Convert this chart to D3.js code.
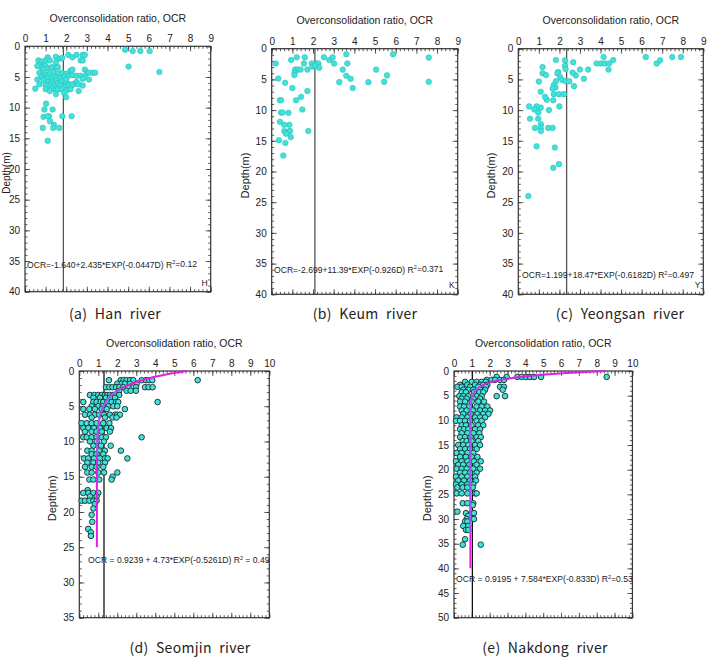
<!DOCTYPE html>
<html lang="en">
<head>
<meta charset="utf-8">
<title>OCR vs depth, five rivers</title>
<script src="https://d3js.org/d3.v7.min.js"></script>
<style>
  body { margin: 0; background: #fff; }
  text { font-family: "Liberation Sans", Arial, sans-serif; fill: #222; }
  .cap { font-family: "Noto Sans CJK KR", "Noto Sans", sans-serif; word-spacing: 4px; letter-spacing: 0.3px; }
</style>
</head>
<body>
<svg width="708" height="664"></svg>
<script>
// [OCR, depth(m)] pairs
const hanPoints = [
  [4.85,0.55],[5.22,0.76],[5.59,0.76],[6.04,0.76],[5.02,3.3],[6.51,4.2],
  [1.1,1.8],[1.5,1.7],[1.7,2.0],[1.8,1.9],[2.1,1.4],[2.3,1.8],[2.5,1.4],[2.8,1.4],[2.9,1.4],[2.7,2.3],[2.8,2.3],
  [0.65,2.3],[0.8,2.5],[1.0,2.3],[1.5,2.6],[1.2,2.3],
  [0.7,3.0],[0.8,3.4],[1.0,3.2],[1.1,3.6],[1.3,3.4],[1.5,3.4],[1.6,3.4],[0.6,3.2],[0.9,3.7],
  [2.2,4.0],[2.3,3.8],[2.9,3.8],[3.0,4.3],[3.1,4.3],[3.3,4.3],[3.4,4.3],
  [0.7,4.3],[0.9,4.4],[1.0,4.7],[1.2,4.4],[1.4,4.3],[1.6,4.4],[1.8,4.3],[2.0,4.5],[2.1,4.8],[2.3,4.7],
  [2.5,4.8],[2.7,4.8],[2.9,5.0],[3.1,5.4],[2.8,5.3],[0.8,5.0],[1.1,5.1],[1.3,5.2],[1.5,5.0],[1.7,5.2],[1.9,5.0],[0.6,5.4],
  [0.9,5.5],[1.1,5.8],[1.3,5.9],[1.5,5.6],[1.6,6.0],[1.8,5.7],[2.0,5.9],[2.2,6.2],[2.4,6.1],[2.5,5.8],[2.6,6.2],[2.8,6.4],
  [0.7,6.2],[1.2,6.4],[1.4,6.6],[1.7,6.4],[1.9,6.6],[2.1,6.4],[2.3,6.3],[2.0,5.4],[1.0,6.3],[1.3,6.9],
  [0.5,6.9],[1.0,7.0],[1.2,7.3],[1.5,7.1],[1.6,7.0],[1.8,7.0],[2.0,7.2],[2.2,7.0],[1.9,7.6],[1.5,7.8],[2.0,8.3],[2.6,7.3],
  [1.02,9.35],[0.94,10.3],[1.34,10.3],[0.9,11.5],[1.16,11.4],[1.1,11.4],[1.81,11.4],[2.26,11.4],[1.21,12.2],[1.4,12.8],
  [0.86,13.3],[1.37,13.3],[1.66,13.3],[1.1,15.4]
];
const keumPoints = [
  [0.19,2.4],[0.94,1.85],[1.21,1.4],[1.6,1.4],[1.56,2.4],[1.94,2.4],[2.18,2.4],[2.26,2.4],[1.98,2.9],[2.1,2.8],[2.3,3.1],
  [2.53,1.4],[2.79,1.85],[2.95,1.4],[3.02,2.4],[3.61,0.9],[3.66,2.4],[3.44,3.4],[3.61,4.4],[3.82,4.9],[3.27,5.45],[3.92,6.4],
  [4.68,5.45],[5.05,3.4],[5.58,4.35],[5.44,5.4],[5.87,0.9],[7.6,1.45],[7.6,5.4],
  [1.13,3.4],[1.26,3.4],[1.4,3.4],[1.73,3.4],[1.11,3.9],[1.1,4.3],[0.32,4.85],[0.65,5.55],[1.0,6.4],[1.73,6.9],[1.42,7.85],
  [1.18,8.4],[0.4,8.4],[0.45,8.4],[0.45,10.4],[0.52,10.4],[0.81,10.45],[1.48,9.9],[0.4,11.9],[0.6,12.4],[0.85,12.4],
  [0.61,13.4],[0.85,13.45],[0.89,13.4],[0.92,14.4],[0.69,13.85],[0.35,14.9],[0.66,15.35],[1.77,13.4],[0.56,17.4]
];
const yeongsanPoints = [
  [6.2,1.36],[6.73,2.4],[6.9,1.9],[7.49,1.36],[7.91,1.36],[4.15,1.36],[3.81,2.4],[4.02,2.4],[4.21,2.4],[4.42,2.4],[4.62,1.85],
  [4.39,3.4],[3.4,3.4],[3.0,3.4],[3.19,4.9],[2.8,4.35],[2.64,3.9],[2.67,2.2],[2.27,1.9],[1.83,1.85],[2.27,2.8],[2.3,3.3],
  [1.94,3.8],[1.9,4.0],[2.03,4.6],[2.14,5.1],[1.83,5.3],[2.3,5.3],[2.48,5.3],[2.71,6.1],[1.73,5.9],[1.81,6.3],[1.67,6.5],
  [1.73,7.4],[1.98,7.4],[2.22,7.4],[1.7,8.4],[1.38,8.3],[1.3,7.85],[1.49,10.0],[2.0,9.4],[1.09,9.6],[0.89,9.4],[0.53,9.4],
  [0.78,9.9],[0.97,10.4],[0.57,11.4],[0.97,11.4],[1.1,12.3],[1.09,12.9],[1.1,13.4],[0.81,12.9],[1.46,12.9],[1.67,12.9],
  [0.89,15.9],[1.78,16.1],[1.18,3.0],[1.18,4.0],[1.35,4.3],[1.0,5.35],[1.09,7.0],[1.7,19.4],[1.98,18.8],[0.49,24.0]
];
// [depth(m), [OCR values at that depth]]
const seomjinRows = [
  [1.3,[1.56,2.18,2.33,2.49,2.67,2.84,3.28,3.51,3.68,3.84,6.23]],
  [1.8,[2.0,2.23,2.4,2.67,3.02]],
  [2.3,[1.4,1.58,1.75,1.93,2.1,2.32,2.58,2.98,3.46,3.65,3.86]],
  [2.8,[2.1,2.49,2.7,2.98]],
  [3.4,[0.56,0.79,1.0,1.18,1.35,1.47,1.61,1.79,1.93,2.1]],
  [3.8,[0.74,1.09,1.4,1.61,1.88]],
  [4.4,[0.21,0.74,0.91,1.12,1.26,1.47,1.7,1.93,2.05,4.12]],
  [5.0,[0.65,1.0,1.23,1.53,1.79,2.0]],
  [5.4,[0.21,0.53,0.82,1.18,1.44,2.4]],
  [6.2,[0.3,0.56,0.82,1.05,1.3,1.61,1.88,2.0,2.14]],
  [6.6,[0.65,1.35,1.75,1.96]],
  [7.4,[0.12,0.39,0.65,0.91,1.26,1.58]],
  [8.1,[0.21,0.47,0.77,1.09,1.44,1.67]],
  [8.6,[0.3,0.65,0.91,1.18,1.61]],
  [9.4,[0.21,0.39,0.65,0.91,1.18,1.4,3.28]],
  [10.0,[0.56,0.91,1.3]],
  [10.6,[0.74,1.14,1.65]],
  [11.3,[0.42,0.65,1.05,1.35,2.19]],
  [11.8,[0.65,0.91,1.26]],
  [12.4,[0.25,0.47,0.77,1.09,1.35,1.49,2.53]],
  [13.0,[0.42,0.74,1.0,1.35]],
  [13.6,[0.3,0.65,0.91,1.26]],
  [14.4,[0.42,0.65,1.0,1.3,2.0]],
  [15.0,[1.75]],
  [15.4,[0.53,0.74,1.05,1.7]],
  [16.9,[0.44]],
  [17.3,[0.21,0.47,0.74,1.0]],
  [17.8,[0.56,0.91]],
  [18.4,[0.12,0.3,0.53,0.74,0.91]],
  [18.9,[0.82]],
  [19.5,[0.74]],
  [20.4,[0.65]],
  [21.4,[0.68]],
  [22.4,[0.47]],
  [22.9,[0.61]],
  [23.4,[0.61]]
];
const nakdongRows = [
  [1.2,[2.39,2.95,3.55,3.79,4.04,4.26,4.49,4.88,8.56]],
  [1.8,[1.83,2.11,2.3,2.58,2.8]],
  [2.2,[0.62,0.99,1.27,1.55,1.79]],
  [2.8,[0.34,0.75,1.18,1.46,1.64,1.87]],
  [3.2,[0.19,0.43,0.9,1.36,1.79,2.58,2.8]],
  [3.8,[0.52,0.8,1.08,1.46,1.74,2.73]],
  [4.3,[0.43,0.67,1.12,1.42,1.64]],
  [5.1,[0.3,0.52,0.8,1.27,1.55,2.39,2.86]],
  [5.6,[0.43,0.71,1.08,1.46]],
  [6.2,[0.34,0.62,0.99,1.36,1.68]],
  [7.2,[0.34,0.56,0.86,1.27,1.55,1.87]],
  [8.0,[0.43,0.71,1.05,1.46,1.74,2.02]],
  [8.7,[0.52,0.93,1.31,1.64,1.93]],
  [9.4,[0.15,0.43,0.75,1.18,1.46,1.74]],
  [10.1,[0.11,0.34,0.62,0.9,1.27,1.55]],
  [11.0,[0.43,0.67,0.99,1.36,1.64]],
  [11.8,[0.34,0.56,0.8,1.18,1.46]],
  [12.6,[0.43,0.75,1.08,1.42]],
  [13.4,[0.34,0.62,0.93,1.27,1.5]],
  [14.2,[0.49,0.71,0.99,1.36]],
  [15.0,[0.24,0.52,0.8,1.18,1.46]],
  [15.8,[0.34,0.62,0.9,1.27]],
  [16.6,[0.15,0.43,0.75,1.08]],
  [17.4,[0.34,0.67,0.99,1.31]],
  [18.3,[0.11,0.43,0.75,1.12,1.5]],
  [19.0,[0.24,0.52,0.86,1.27]],
  [19.8,[0.15,0.43,0.71,1.08,1.46]],
  [20.6,[0.34,0.62,0.9,1.27]],
  [21.4,[0.11,0.43,0.75,1.18]],
  [22.2,[0.24,0.56,0.9,1.23]],
  [23.0,[0.11,0.43,0.75,1.08]],
  [23.6,[0.19,0.49,0.75,1.05]],
  [24.8,[0.15,0.43,0.75,1.18,1.27]],
  [26.8,[0.49,0.75,1.08]],
  [27.2,[1.05]],
  [28.5,[0.19]],
  [28.8,[0.67,0.99,1.12]],
  [29.4,[0.8]],
  [30.0,[0.71,1.12]],
  [30.5,[0.62,0.75]],
  [31.4,[0.52,0.8]],
  [32.2,[0.67,0.8]],
  [34.1,[0.62]],
  [35.2,[0.49,1.5]]
];

const rowsToPoints = rows => rows.flatMap(([d, xs]) => xs.map(v => [v, d]));

const panels = [
  {pts: hanPoints, left: 25, right: 210.7, top: 46.3, bottom: 291.7, xMax: 9, yMax: 40, mean: 1.86,
   eq: ["OCR=-1.640+2.435*EXP(-0.0447D) R", "=0.12"], eqX: 27, eqY: 264.5, tag: "H",
   caption: "(a) Han river", capX: 115, capY: 319, outline: false, labX: 6, labSize: 10},
  {pts: keumPoints, left: 271.7, right: 457.7, top: 48.7, bottom: 294.3, xMax: 9, yMax: 40, mean: 2.09,
   eq: ["OCR=-2.699+11.39*EXP(-0.926D) R", "=0.371"], eqX: 274, eqY: 269.5, tag: "K",
   caption: "(b) Keum river", capX: 365, capY: 319, outline: false},
  {pts: yeongsanPoints, left: 518.3, right: 703.3, top: 48.7, bottom: 294.3, xMax: 9, yMax: 40, mean: 2.35,
   eq: ["OCR=1.199+18.47*EXP(-0.6182D) R", "=0.497"], eqX: 522, eqY: 275, tag: "Y",
   caption: "(c) Yeongsan river", capX: 620, capY: 319, outline: false},
  {pts: rowsToPoints(seomjinRows), left: 79.3, right: 269.3, top: 371, bottom: 617.7, xMax: 10, yMax: 35, mean: 1.3,
   eq: ["OCR = 0.9239 + 4.73*EXP(-0.5261D) R", " = 0.49"], eqX: 88, eqY: 560, tag: null,
   caption: "(d) Seomjin river", capX: 190, capY: 653, outline: true,
   fit: {a: 0.9239, b: 4.73, c: 0.5261, dMax: 25}, blue: [2.5, 12]},
  {pts: rowsToPoints(nakdongRows), left: 454, right: 632.4, top: 371, bottom: 617.7, xMax: 10, yMax: 50, mean: 1.03,
   eq: ["OCR = 0.9195 + 7.584*EXP(-0.833D) R", "=0.53"], eqX: 456, eqY: 579, tag: null,
   caption: "(e) Nakdong river", capX: 545, capY: 653, outline: true,
   fit: {a: 0.9195, b: 7.584, c: 0.833, dMax: 40}, blue: [3, 33]}
];

const svg = d3.select("svg");

function styleAxis(g) {
  g.select(".domain").remove();
  g.selectAll("line").attr("stroke", "#333").attr("stroke-width", 0.8);
  g.selectAll("text").attr("font-size", 10).attr("font-family", '"Liberation Sans", Arial, sans-serif').attr("fill", "#222");
}

panels.forEach(p => {
  const x = d3.scaleLinear().domain([0, p.xMax]).range([p.left, p.right]);
  const y = d3.scaleLinear().domain([0, p.yMax]).range([p.top, p.bottom]);
  const g = svg.append("g");
  const w = p.right - p.left, h = p.bottom - p.top;

  const xMinor = d3.range(0, p.xMax + 0.001, 0.2);
  const yMinor = d3.range(0, p.yMax + 0.001, 1);
  const yMajor = d3.range(0, p.yMax + 0.001, 5);

  // minor ticks, all four sides
  g.append("g").attr("transform", `translate(0,${p.top})`)
    .call(d3.axisTop(x).tickValues(xMinor).tickSize(-2.5).tickFormat("")).call(styleAxis);
  g.append("g").attr("transform", `translate(0,${p.bottom})`)
    .call(d3.axisBottom(x).tickValues(xMinor).tickSize(-2.5).tickFormat("")).call(styleAxis);
  g.append("g").attr("transform", `translate(${p.left},0)`)
    .call(d3.axisLeft(y).tickValues(yMinor).tickSize(-2.5).tickFormat("")).call(styleAxis);
  g.append("g").attr("transform", `translate(${p.right},0)`)
    .call(d3.axisRight(y).tickValues(yMinor).tickSize(-2.5).tickFormat("")).call(styleAxis);

  // major ticks with labels
  g.append("g").attr("transform", `translate(0,${p.top})`)
    .call(d3.axisTop(x).ticks(p.xMax).tickSize(-5).tickPadding(4)).call(styleAxis);
  g.append("g").attr("transform", `translate(0,${p.bottom})`)
    .call(d3.axisBottom(x).ticks(p.xMax).tickSize(-5).tickFormat("")).call(styleAxis);
  g.append("g").attr("transform", `translate(${p.left},0)`)
    .call(d3.axisLeft(y).tickValues(yMajor).tickSize(-5).tickPadding(5)).call(styleAxis);
  g.append("g").attr("transform", `translate(${p.right},0)`)
    .call(d3.axisRight(y).tickValues(yMajor).tickSize(-5).tickFormat("")).call(styleAxis);

  // frame
  g.append("rect").attr("x", p.left).attr("y", p.top).attr("width", w).attr("height", h)
    .attr("fill", "none").attr("stroke", "#333").attr("stroke-width", 1.2);

  // mean OCR line
  g.append("line").attr("x1", x(p.mean)).attr("x2", x(p.mean)).attr("y1", p.top).attr("y2", p.bottom)
    .attr("stroke", p.outline ? "#111" : "#555").attr("stroke-width", 1.3);

  // points
  g.append("g").selectAll("circle").data(p.pts).join("circle")
    .attr("cx", d => x(d[0])).attr("cy", d => y(d[1])).attr("r", 2.8)
    .attr("fill", "#3fe3dc")
    .attr("stroke", p.outline ? "#1a2a2a" : "#2bb5b0")
    .attr("stroke-width", p.outline ? 0.9 : 0.5);

  // fitted curve
  if (p.fit) {
    const f = p.fit;
    const curve = d => f.a + f.b * Math.exp(-f.c * d);
    const line = d3.line().x(d => x(curve(d))).y(d => y(d));
    g.append("path").datum(d3.range(0, f.dMax + 0.001, 0.1)).attr("d", line)
      .attr("fill", "none").attr("stroke", "#e020e0").attr("stroke-width", 2);
    g.append("path").datum(d3.range(p.blue[0], p.blue[1] + 0.001, 0.1)).attr("d", line)
      .attr("fill", "none").attr("stroke", "#7f7cf0").attr("stroke-width", 2).attr("opacity", 0.6);
  }

  // equation
  const eq = g.append("text").attr("x", p.eqX).attr("y", p.eqY).attr("dy", "0.35em").attr("font-size", 8.6);
  eq.append("tspan").text(p.eq[0]);
  eq.append("tspan").attr("font-size", 5.5).attr("dy", "-0.6em").text("2");
  eq.append("tspan").attr("dy", "0.38em").text(p.eq[1]);

  if (p.tag) {
    g.append("text").attr("x", p.right - 3).attr("y", p.bottom - 6).attr("text-anchor", "end")
      .attr("font-size", 8.5).text(p.tag);
  }

  // titles
  g.append("text").attr("x", (p.left + p.right) / 2).attr("y", p.top - 24.5)
    .attr("text-anchor", "middle").attr("font-size", 10.5).text("Overconsolidation ratio, OCR");
  const labX = p.labX !== undefined ? p.labX : p.left - 27;
  g.append("text").attr("transform", `translate(${labX},${(p.top + p.bottom) / 2 + 4}) rotate(-90)`)
    .attr("text-anchor", "middle").attr("dy", "0.35em").attr("font-size", p.labSize || 11).text("Depth(m)");
  g.append("text").attr("class", "cap").attr("x", p.capX).attr("y", p.capY)
    .attr("text-anchor", "middle").attr("font-size", 14).text(p.caption);
});
</script>
</body>
</html>
